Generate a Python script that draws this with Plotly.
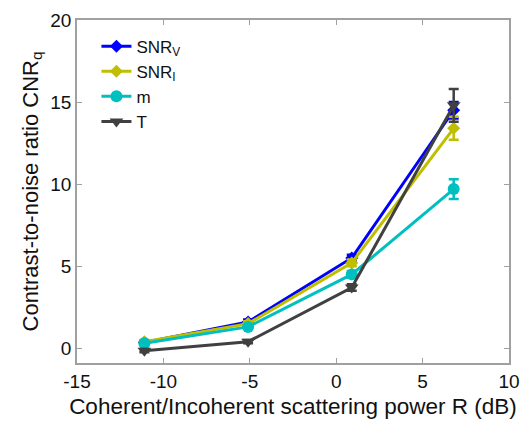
import plotly.graph_objects as go

x_db = [-11.1, -5.1, 0.9, 6.8]
snr_v = [0.35, 1.6, 5.5, 14.5]
snr_v_err = [0.1, 0.15, 0.2, 0.5]
snr_i = [0.4, 1.5, 5.2, 13.4]
snr_i_err = [0.1, 0.15, 0.2, 0.7]
m_vals = [0.3, 1.3, 4.5, 9.7]
m_err = [0.1, 0.1, 0.2, 0.6]
t_vals = [-0.15, 0.4, 3.7, 14.8]
t_err = [0.1, 0.1, 0.2, 1.0]

x_ticks = [-15, -10, -5, 0, 5, 10]
x_ticklabels = ["-15", "-10", "-5", "0", "5", "10"]
y_ticks = [0, 5, 10, 15, 20]
y_ticklabels = ["0", "5", "10", "15", "20"]

names = ["SNR<sub>V</sub>", "SNR<sub>I</sub>", "m", "T"]
colors = ["#0000FF", "#BFBF00", "#00BFBF", "#404040"]
symbols = ["diamond", "diamond", "circle", "triangle-down"]
sizes = [10, 10, 12, 12]
series = [(snr_v, snr_v_err), (snr_i, snr_i_err), (m_vals, m_err), (t_vals, t_err)]

fig = go.Figure()
for (vals, errs), name, c, s, sz in zip(series, names, colors, symbols, sizes):
    fig.add_trace(go.Scatter(
        x=x_db, y=vals, name=name, mode="lines+markers",
        line=dict(color=c, width=3),
        marker=dict(color=c, symbol=s, size=sz),
        error_y=dict(type="data", array=errs, color=c, thickness=2.5, width=5),
    ))

FONT = "Liberation Sans, Arial"
axis_common = dict(
    showline=True, linecolor="#A0A0A0", linewidth=1.5, mirror="ticks",
    ticks="inside", ticklen=5, tickcolor="#A0A0A0", showgrid=False, zeroline=False,
    tickfont=dict(family=FONT, size=19, color="#111111"),
)

fig.update_layout(
    width=530, height=425,
    margin=dict(l=77, r=10, t=15, b=62),
    paper_bgcolor="white", plot_bgcolor="white",
    xaxis=dict(range=[-15, 10], tickvals=x_ticks, ticktext=x_ticklabels,
               title=dict(text="Coherent/Incoherent scattering power R (dB)", standoff=8,
                          font=dict(family=FONT, size=22.5, color="#111111")),
               **axis_common),
    yaxis=dict(range=[-0.9, 20], tickvals=y_ticks, ticktext=y_ticklabels,
               title=dict(text="Contrast-to-noise ratio CNR<sub>q</sub>", standoff=6,
                          font=dict(family=FONT, size=22, color="#111111")),
               **axis_common),
    legend=dict(x=0.045, y=0.975, xanchor="left", yanchor="top",
                bgcolor="rgba(0,0,0,0)", borderwidth=0,
                font=dict(family=FONT, size=17, color="#111111"),
                tracegroupgap=0, itemwidth=30),
    showlegend=True,
)

fig.write_html("out.html")
